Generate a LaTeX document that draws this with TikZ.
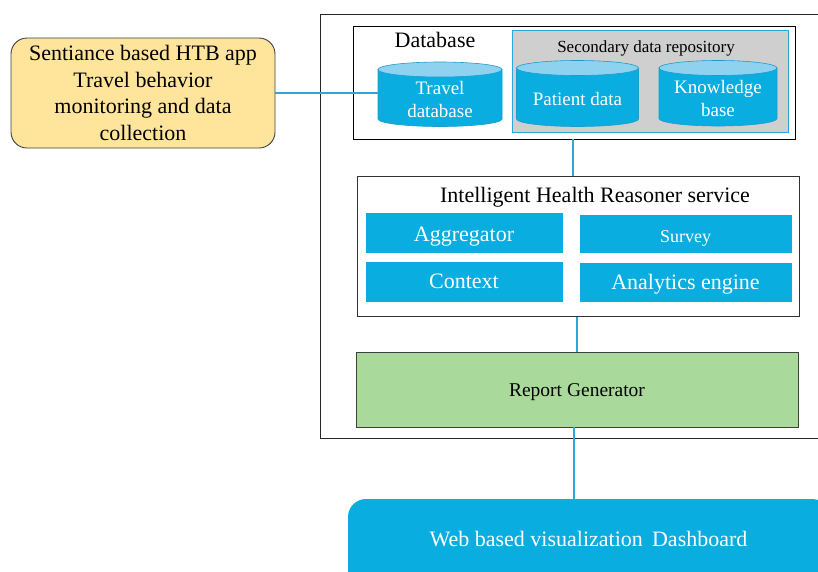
\documentclass[tikz,border=0pt]{standalone}
\usepackage{fontspec}
\setmainfont{Liberation Serif}
\definecolor{cyanfill}{HTML}{0AADE0}
\definecolor{cyanline}{HTML}{2AA8DC}
\definecolor{cyltopc}{HTML}{8FD2EF}
\definecolor{cyledge}{HTML}{1B9CCB}
\definecolor{repogray}{HTML}{D0CFCF}
\definecolor{yellowfill}{HTML}{FEE59B}
\definecolor{greenfill}{HTML}{A9D99B}
\definecolor{edgegray}{HTML}{404040}
\newcommand\fsz[2]{\fontsize{#1}{#2}\selectfont}
\newcommand\dbcyl[6]{%
  \filldraw[cylbody] (#2-#3,#4) -- (#2-#3,#5) arc[start angle=180,end angle=0,x radius=#3,y radius=7.5] -- (#2+#3,#4) -- cycle;
  \filldraw[cyltopstyle] (#2,#4) ellipse[x radius=#3,y radius=7.5];
  \node[cyltext, minimum width={2*#3pt}] (#1) at (#2,{(#4+#5)/2+5.5}) {#6};
}
\begin{document}
\begin{tikzpicture}[x=1pt,y=-1pt,
  link/.style={draw=cyanline, line width=1.4pt},
  cylbody/.style={fill=cyanfill, draw=cyledge, line width=0.6pt},
  cyltopstyle/.style={fill=cyltopc, draw=cyledge, line width=0.6pt},
  cyltext/.style={text=white, align=center, font=\fsz{19}{23}, inner sep=0pt},
  frame/.style={draw=black, line width=0.9pt, fill=white},
  bluebox/.style={fill=cyanfill, draw=white, line width=0.5pt, text=white, inner sep=0pt, font=\fsz{22}{26}},
  titletext/.style={inner sep=0pt, text=black, anchor=base},
  bl/.style={text height={2*#1pt}, text depth=0pt},
]
\useasboundingbox (0,0) rectangle (818,571);
\clip (0,0) rectangle (818,571);

% outer container
\node[frame, draw=black!85, minimum width=510pt, minimum height=424pt, inner sep=0pt] (outer) at (575,226) {};

% app box
\node[draw=edgegray, line width=0.9pt, fill=yellowfill, rounded corners=16pt,
  minimum width=264pt, minimum height=110pt, align=center, inner sep=0pt,
  font=\fsz{22}{26.7}] (app) at (143,93)
  {Sentiance based HTB app\\Travel behavior\\monitoring and data\\collection};

% database box
\node[frame, minimum width=442pt, minimum height=113pt, inner sep=0pt] (db) at (574,82.5) {};
\node[titletext, font=\fsz{22}{26}] (dbtitle) at (435,47.3) {Database};

% secondary repository
\node[fill=repogray, draw=cyanline, line width=1pt, minimum width=276pt, minimum height=102pt, inner sep=0pt] (repo) at (650,81) {};
\node[titletext, font=\fsz{17}{20}] (repotitle) at (646,52.3) {Secondary data repository};

% cylinders
\dbcyl{tdb}{440}{62}{69.5}{119}{Travel\\database}
\dbcyl{pdb}{577.5}{61}{68}{119}{Patient data}
\dbcyl{kdb}{718}{59}{68}{118.5}{Knowledge\\base}

% IHR service
\node[frame, draw=black!80, minimum width=442pt, minimum height=140pt, inner sep=0pt] (ihr) at (578,246.5) {};
\node[titletext, font=\fsz{22}{26}] (ihrtitle) at (595,202.3) {Intelligent Health Reasoner service};
\node[bluebox, bl=9.2, minimum width=198pt, minimum height=41pt] (agg) at (464,232.5) {Aggregator};
\node[bluebox, bl=8.8, minimum width=213pt, minimum height=39pt, font=\fsz{18}{22}] (survey) at (685.5,233.5) {Survey};
\node[bluebox, bl=6.8, minimum width=198pt, minimum height=41pt] (ctx) at (464,281.5) {Context};
\node[bluebox, bl=7.3, minimum width=213pt, minimum height=40pt] (ana) at (685.5,282) {Analytics engine};

% report generator
\node[draw=edgegray, line width=0.9pt, fill=greenfill, bl=7.2, minimum width=442pt, minimum height=75pt,
  inner sep=0pt, font=\fsz{19.5}{23}] (rep) at (577,389.5) {Report Generator};

% dashboard
\node[fill=cyanfill, rounded corners=18pt, minimum width=482pt, minimum height=100pt, inner sep=0pt] (dash) at (589,549) {};
\node[text=white, inner sep=0pt, anchor=base, font=\fsz{22}{26}] (dashtext) at (588.5,546.7) {Web based visualization \,Dashboard};

% connectors
\draw[link] (app.east) -- (app.east -| tdb.west);
\draw[link] (573,0 |- db.south) -- (573,0 |- ihr.north);
\draw[link] (577,0 |- ihr.south) -- (577,0 |- rep.north);
\draw[link] (574,0 |- rep.south) -- (574,0 |- dash.north);
\end{tikzpicture}
\end{document}
